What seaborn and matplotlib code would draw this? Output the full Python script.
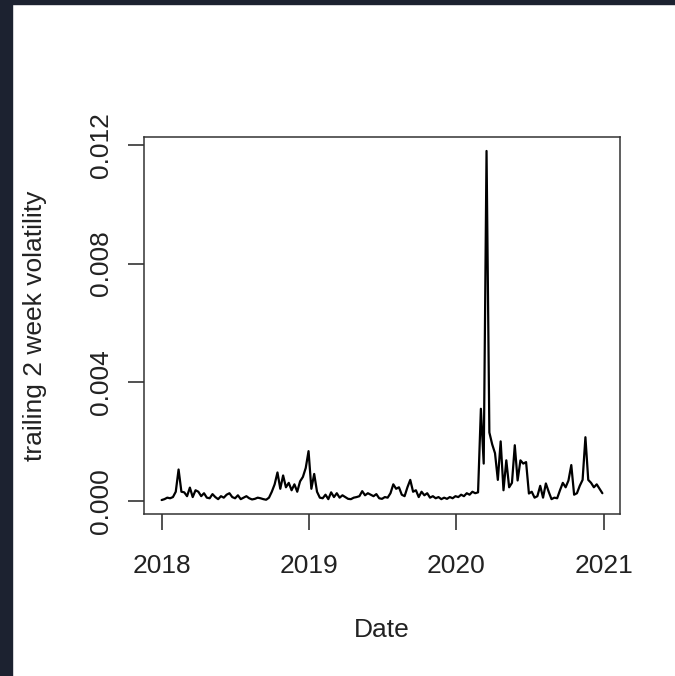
import numpy as np
import pandas as pd
import matplotlib
matplotlib.use("Agg")
import matplotlib.pyplot as plt
import matplotlib.dates as mdates
from matplotlib.patches import Rectangle
import seaborn as sns

# weekly trailing 2 week volatility
week_start = "2018-01-01"
vol_2018 = [0.00002, 0.00005, 0.00010, 0.00008, 0.00012, 0.00030, 0.00105, 0.00030,
            0.00028, 0.00015, 0.00044, 0.00012, 0.00035, 0.00030, 0.00015, 0.00025,
            0.00010, 0.00008, 0.00022, 0.00012, 0.00005, 0.00015, 0.00010, 0.00020,
            0.00025, 0.00012, 0.00008, 0.00018, 0.00005, 0.00010, 0.00015, 0.00008,
            0.00004, 0.00006, 0.00010, 0.00008, 0.00005, 0.00003, 0.00010, 0.00030,
            0.00055, 0.00095, 0.00040, 0.00085, 0.00045, 0.00060, 0.00035, 0.00055,
            0.00030, 0.00065, 0.00080, 0.00110, 0.00167]
vol_2019 = [0.00040, 0.00090, 0.00030, 0.00010, 0.00008, 0.00020, 0.00005, 0.00028,
            0.00012, 0.00025, 0.00010, 0.00018, 0.00012, 0.00006, 0.00005, 0.00010,
            0.00012, 0.00015, 0.00032, 0.00018, 0.00025, 0.00020, 0.00015, 0.00022,
            0.00008, 0.00006, 0.00012, 0.00010, 0.00025, 0.00055, 0.00040, 0.00045,
            0.00020, 0.00015, 0.00045, 0.00070, 0.00030, 0.00035, 0.00012, 0.00030,
            0.00018, 0.00025, 0.00010, 0.00015, 0.00008, 0.00012, 0.00005, 0.00010,
            0.00006, 0.00012, 0.00008, 0.00015]
vol_2020 = [0.00012, 0.00020, 0.00015, 0.00025, 0.00020, 0.00030, 0.00025, 0.00028,
            0.00310, 0.00125, 0.01180, 0.00230, 0.00190, 0.00160, 0.00070, 0.00200,
            0.00035, 0.00136, 0.00045, 0.00060, 0.00187, 0.00068, 0.00136, 0.00125,
            0.00130, 0.00024, 0.00030, 0.00010, 0.00015, 0.00050, 0.00010, 0.00058,
            0.00030, 0.00005, 0.00010, 0.00008, 0.00035, 0.00060, 0.00045, 0.00068,
            0.00120, 0.00020, 0.00025, 0.00050, 0.00070, 0.00214, 0.00070, 0.00060,
            0.00045, 0.00055, 0.00040, 0.00025]
year_ticks = ["2018", "2019", "2020", "2021"]
y_ticks = [0.000, 0.004, 0.008, 0.012]

vol = vol_2018 + vol_2019 + vol_2020
df = pd.DataFrame({"Date": pd.date_range(week_start, periods=len(vol), freq="7D"),
                   "vol": vol})

sns.set_style("white")
plt.rcParams["font.family"] = ["Liberation Sans", "DejaVu Sans"]

fig = plt.figure(figsize=(6.75, 6.76), dpi=100)
fig.patch.set_facecolor("white")
# dark frame of the screenshot
fig.patches.append(Rectangle((0, 0), 12 / 675, 1, transform=fig.transFigure,
                             color="#1c2230", zorder=10))
fig.patches.append(Rectangle((0, 1 - 4 / 676), 1, 4 / 676, transform=fig.transFigure,
                             color="#1c2230", zorder=10))

ax = fig.add_axes([144 / 675, (676 - 514) / 676, 476 / 675, 377 / 676])
sns.lineplot(data=df, x="Date", y="vol", color="black", linewidth=1.6, ax=ax)

# R style 4% padding
xn = mdates.date2num(df["Date"])
pad = (xn.max() - xn.min()) * 0.04
ax.set_xlim(xn.min() - pad, xn.max() + pad)
ypad = (df["vol"].max() - df["vol"].min()) * 0.04
ax.set_ylim(df["vol"].min() - ypad, df["vol"].max() + ypad)

ax.set_xticks([mdates.date2num(pd.Timestamp(f"{y}-01-01")) for y in year_ticks])
ax.set_xticklabels(year_ticks)
ax.set_yticks(y_ticks)
ax.set_yticklabels([f"{v:.3f}" for v in y_ticks], rotation=90, va="center")

ax.tick_params(axis="both", direction="out", length=11.5, width=1.1, color="#222222",
               labelsize=19, labelcolor="#222222", bottom=True, left=True)
ax.tick_params(axis="x", pad=17)
ax.tick_params(axis="y", pad=11)

for s in ax.spines.values():
    s.set_visible(True)
    s.set_color("#333333")
    s.set_linewidth(1.1)

ax.set_xlabel("Date", fontsize=19, color="#222222", va="center")
ax.set_ylabel("trailing 2 week volatility", fontsize=19, color="#222222", va="center")
ax.xaxis.set_label_coords(0.5, (514 - 630) / 377)
ax.yaxis.set_label_coords((35 - 144) / 476, 0.5)

fig.savefig("out.png", dpi=100, facecolor="white")
